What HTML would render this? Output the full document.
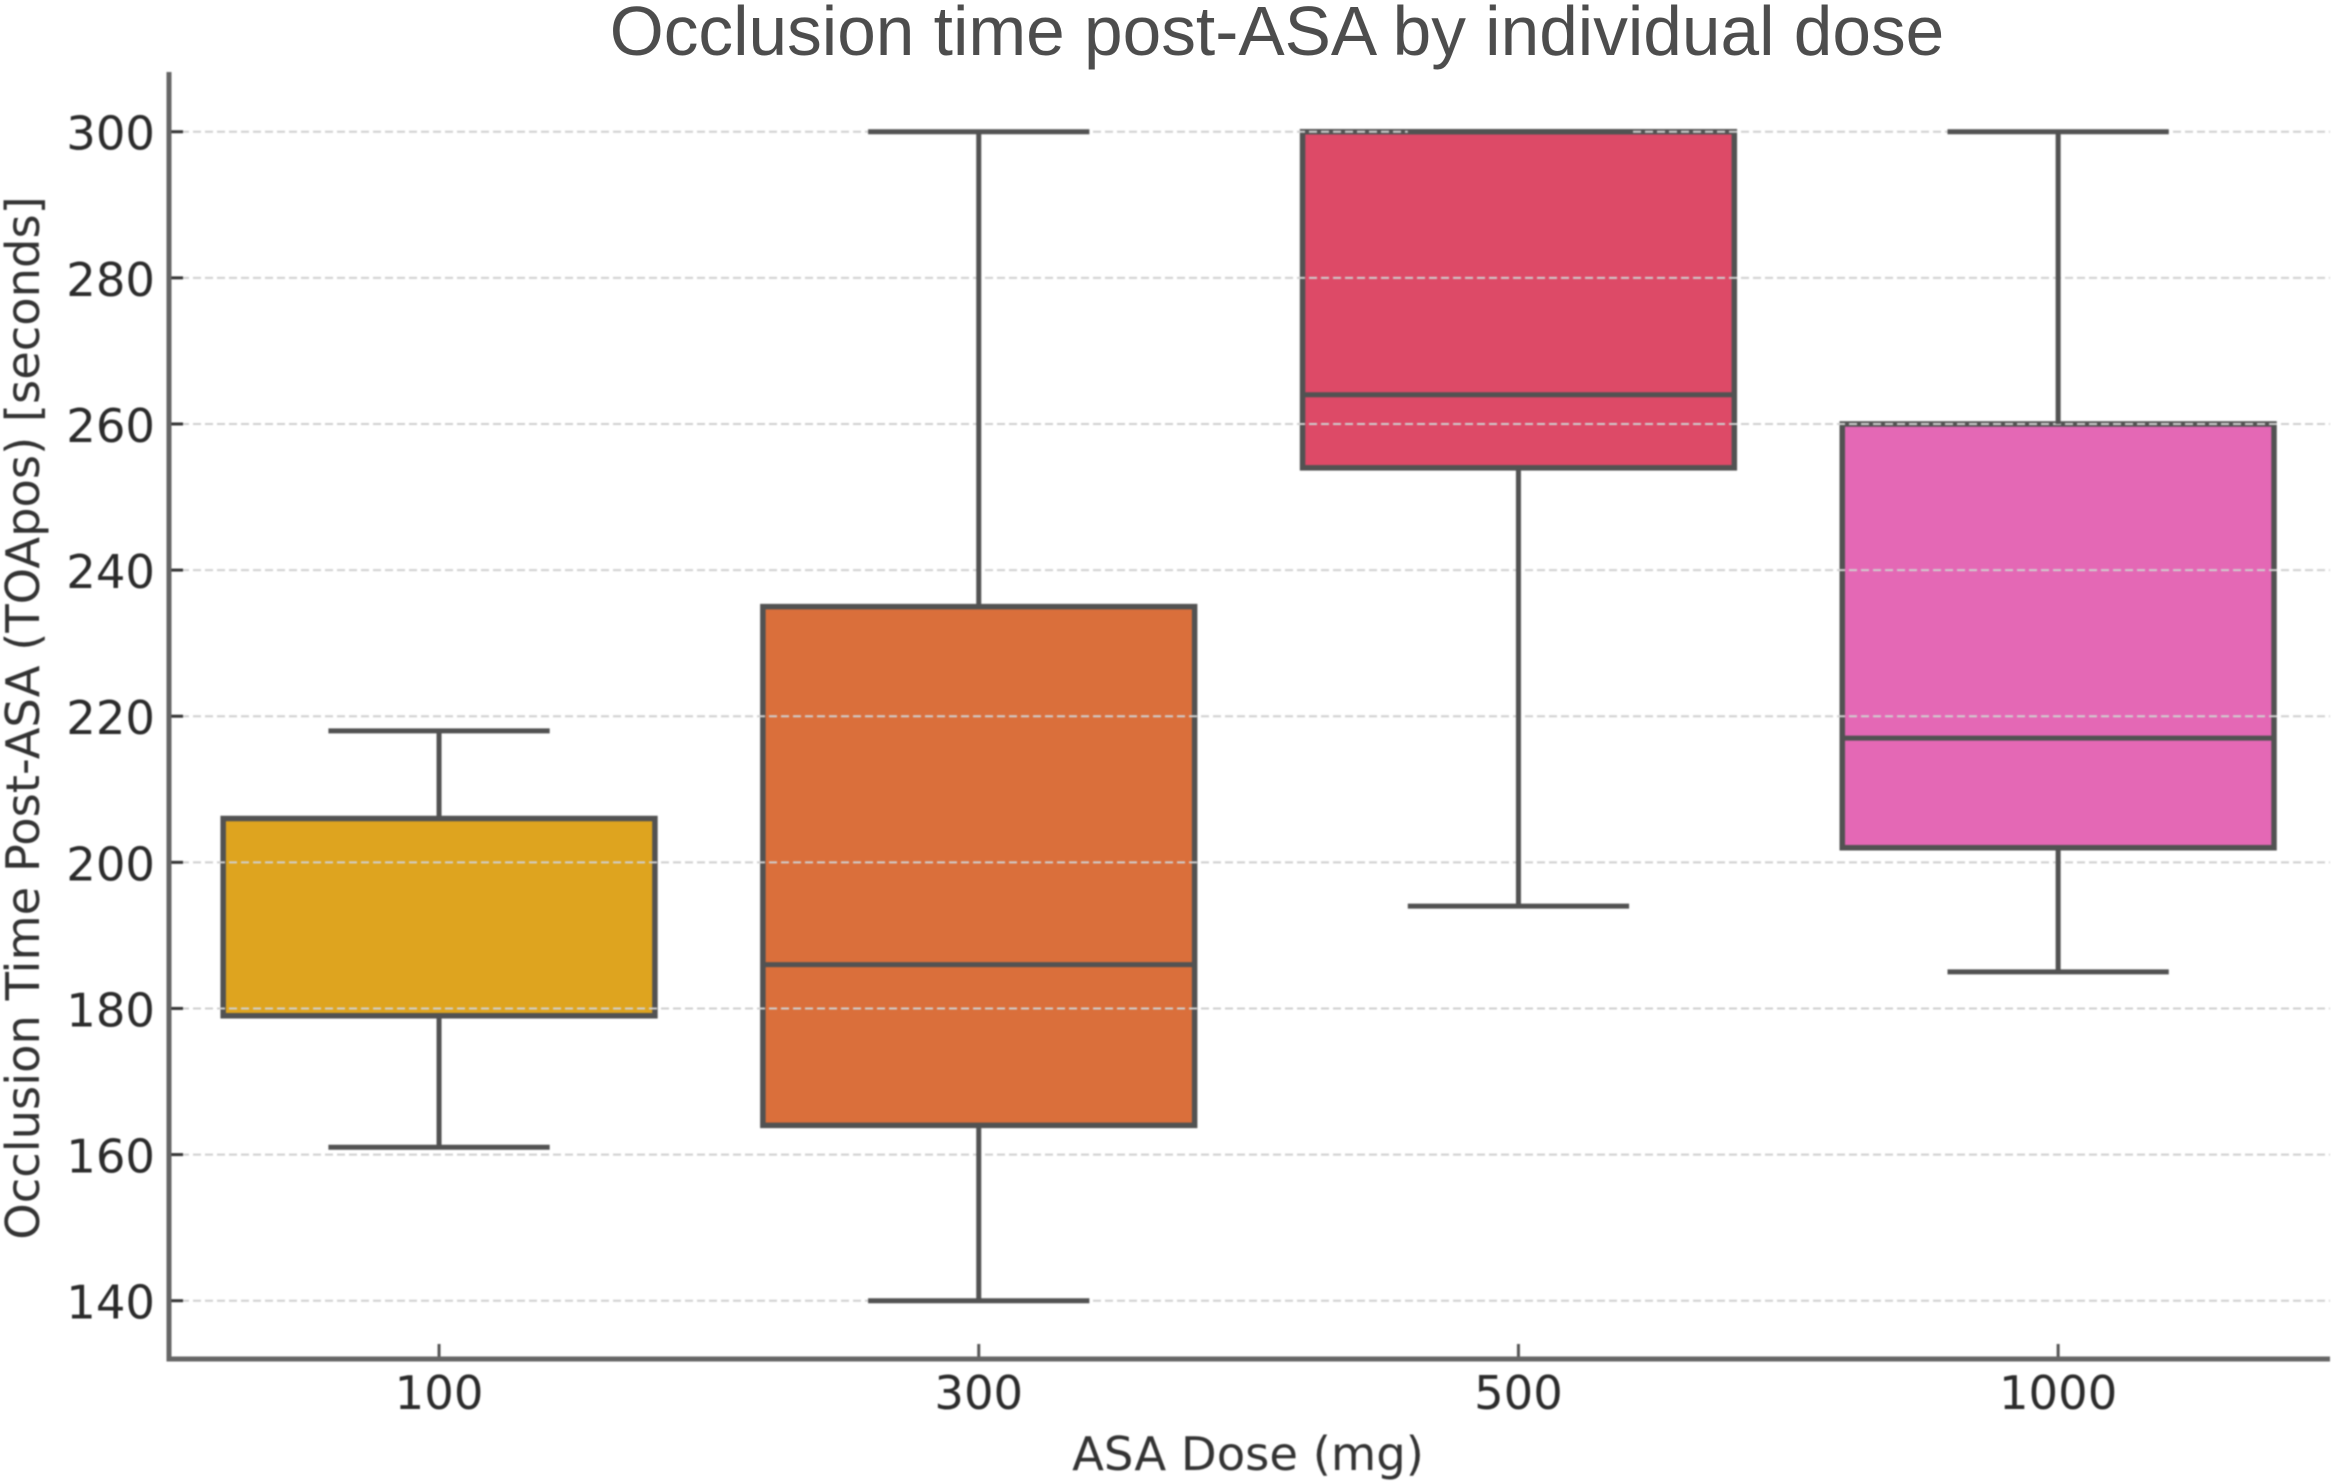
<!DOCTYPE html>
<html lang="en">
<head>
<meta charset="utf-8">
<title>Occlusion time post-ASA by individual dose</title>
<style>
html,body{margin:0;padding:0;background:#fff;width:2333px;height:1484px;overflow:hidden}
svg{display:block}
text{font-family:"DejaVu Sans","Liberation Sans",sans-serif}
.soft{filter:blur(0.9px)}
</style>
</head>
<body>
<svg id="chart" xmlns="http://www.w3.org/2000/svg" width="2333" height="1484" viewBox="0 0 2333 1484">
<rect width="2333" height="1484" fill="#ffffff"/>
<text x="1277" y="55" text-anchor="middle" font-size="69.4" fill="#4d4d4d" style="font-family:'Liberation Sans',sans-serif">Occlusion time post-ASA by individual dose</text>
<g class="soft">
<text transform="translate(39,718) rotate(-90)" text-anchor="middle" font-size="46.4" fill="#333333">Occlusion Time Post-ASA (TOApos) [seconds]</text>
<text x="1248" y="1470" text-anchor="middle" font-size="46.5" fill="#333333">ASA Dose (mg)</text>
<g id="boxes"></g>
<g id="grid"></g>
<g id="whiskers"></g>
<g id="axes"></g>
</g>
</svg>
<script>
const categories = ['100', '300', '500', '1000'];
const whiskerLow = [161, 140, 194, 185];
const q1 = [179, 164, 254, 202];
const medians = [179, 186, 264, 217];
const q3 = [206, 235, 300, 260];
const whiskerHigh = [218, 300, 300, 300];
const yTickLabels = [140, 160, 180, 200, 220, 240, 260, 280, 300];
const boxColors = ['#dea41f', '#da6f3b', '#dd4a67', '#e468b5'];

const SVGNS = 'http://www.w3.org/2000/svg';
const lineColor = '#525252';
const plotLeft = 169;
const plotRight = 2330;
const plotTop = 72;
const plotBottom = 1359;
const bandStart = 169.2;
const bandWidth = 539.7;

function yScale(v) { return 1300.7 - (v - 140) * 7.306; }
function xScale(i) { return bandStart + bandWidth * (i + 0.5); }

function make(tag, attrs, parent) {
  const el = document.createElementNS(SVGNS, tag);
  for (const k in attrs) el.setAttribute(k, attrs[k]);
  parent.appendChild(el);
  return el;
}

const boxesLayer = document.getElementById('boxes');
const gridLayer = document.getElementById('grid');
const whiskerLayer = document.getElementById('whiskers');
const axesLayer = document.getElementById('axes');

categories.forEach(function (cat, i) {
  const cx = xScale(i);
  const boxW = bandWidth * 0.8;
  const capW = bandWidth * 0.41;

  const wl = make('line', { x1: cx, x2: cx, y1: yScale(q1[i]), y2: yScale(whiskerLow[i]), stroke: lineColor, 'stroke-width': 5 }, whiskerLayer);
  
  

  const wh = make('line', { x1: cx, x2: cx, y1: yScale(q3[i]), y2: yScale(whiskerHigh[i]), stroke: lineColor, 'stroke-width': 5 }, whiskerLayer);
  
  

  const cl = make('line', { x1: cx - capW / 2, x2: cx + capW / 2, y1: yScale(whiskerLow[i]), y2: yScale(whiskerLow[i]), stroke: lineColor, 'stroke-width': 5 }, whiskerLayer);
  
  

  const ch = make('line', { x1: cx - capW / 2, x2: cx + capW / 2, y1: yScale(whiskerHigh[i]), y2: yScale(whiskerHigh[i]), stroke: lineColor, 'stroke-width': 5 }, whiskerLayer);
  
  

  const box = make('rect', { x: cx - boxW / 2, y: yScale(q3[i]), width: boxW, height: yScale(q1[i]) - yScale(q3[i]), fill: boxColors[i], stroke: lineColor, 'stroke-width': 5.5 }, boxesLayer);
  
  

  const med = make('line', { x1: cx - boxW / 2, x2: cx + boxW / 2, y1: yScale(medians[i]), y2: yScale(medians[i]), stroke: lineColor, 'stroke-width': 5 }, boxesLayer);
  
  
});

yTickLabels.forEach(function (t) {
  const y = yScale(t);
  const g = make('line', { x1: plotLeft, x2: plotRight, y1: y, y2: y, stroke: '#cfcfcf', 'stroke-width': 2, 'stroke-dasharray': '8 4' }, gridLayer);
  
  

  const tick = make('line', { x1: plotLeft, x2: plotLeft + 14, y1: y, y2: y, stroke: '#333333', 'stroke-width': 3 }, axesLayer);
  
  

  const label = make('text', { x: 155, y: y + 18, 'text-anchor': 'end', 'font-size': 46.5, fill: '#2b2b2b' }, axesLayer);
  label.textContent = String(t);
  
  
});

categories.forEach(function (cat, i) {
  const x = xScale(i);
  const tick = make('line', { x1: x, x2: x, y1: plotBottom - 15, y2: plotBottom, stroke: '#555555', 'stroke-width': 3 }, axesLayer);
  
  

  const label = make('text', { x: x, y: 1409, 'text-anchor': 'middle', 'font-size': 46.5, fill: '#2b2b2b' }, axesLayer);
  label.textContent = cat;
  
  
});

const yAxis = make('line', { x1: plotLeft, x2: plotLeft, y1: plotTop, y2: plotBottom + 2.5, stroke: '#666666', 'stroke-width': 5 }, axesLayer);



const xAxis = make('line', { x1: plotLeft - 2.5, x2: plotRight, y1: plotBottom, y2: plotBottom, stroke: '#666666', 'stroke-width': 5 }, axesLayer);


</script>
</body>
</html>
